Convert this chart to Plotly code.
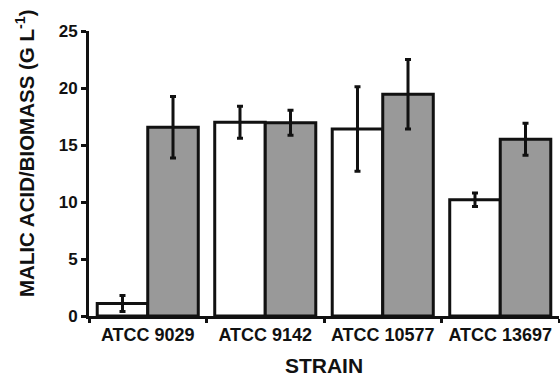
import plotly.graph_objects as go

strains = ["ATCC 9029", "ATCC 9142", "ATCC 10577", "ATCC 13697"]
white_vals = [1.1, 17.0, 16.4, 10.2]
white_err = [0.7, 1.4, 3.7, 0.6]
gray_vals = [16.55, 16.95, 19.45, 15.5]
gray_err = [2.7, 1.1, 3.05, 1.4]
y_ticks = [0, 5, 10, 15, 20, 25]

font_family = "Liberation Sans, Arial, sans-serif"
W, H = 560, 381
ML, MR, MT, MB = 89, 1, 31, 65

fig = go.Figure()
fig.add_trace(go.Bar(
    x=strains, y=white_vals,
    marker=dict(color="white", line=dict(color="#111111", width=3)),
    error_y=dict(type="data", array=white_err, color="#111111", thickness=3, width=3),
    showlegend=False,
))
fig.add_trace(go.Bar(
    x=strains, y=gray_vals,
    marker=dict(color="#999999", line=dict(color="#111111", width=3)),
    error_y=dict(type="data", array=gray_err, color="#111111", thickness=3, width=3),
    showlegend=False,
))

fig.update_layout(
    width=W, height=H,
    margin=dict(l=ML, r=MR, t=MT, b=MB, autoexpand=False),
    paper_bgcolor="white", plot_bgcolor="white",
    barmode="group", bargap=0.14, bargroupgap=0,
    font=dict(family=font_family, size=17, color="#111111", weight="bold"),
)
fig.update_xaxes(
    automargin=False,
    showline=True, linecolor="#111111", linewidth=3,
    ticks="outside", tickson="boundaries", ticklen=4, tickwidth=3, tickcolor="#111111",
    tickfont=dict(family=font_family, size=18, weight="bold", color="#111111"),
    title=dict(text="STRAIN", font=dict(family=font_family, size=21, weight="bold", color="#111111"), standoff=15),
    showgrid=False, zeroline=False,
)
fig.update_yaxes(
    automargin=False,
    range=[0, 25], tickvals=y_ticks,
    showline=True, linecolor="#111111", linewidth=3,
    ticks="outside", ticklen=5, tickwidth=3, tickcolor="#111111",
    tickfont=dict(family=font_family, size=17, weight="bold", color="#111111"),
    showgrid=False, zeroline=False,
)
y_center_px = 153
fig.add_annotation(
    text="MALIC ACID/BIOMASS (G L<sup>-1</sup>)",
    textangle=-90, showarrow=False,
    xref="paper", yref="paper",
    x=(25 - ML) / (W - ML - MR), y=(H - MB - y_center_px) / (H - MT - MB),
    xanchor="center", yanchor="middle",
    font=dict(family=font_family, size=20.5, weight="bold", color="#111111"),
)

fig.write_html(
    "out.html",
    config={"displayModeBar": False},
    post_script="document.body.style.margin='0';document.body.style.overflow='hidden';document.documentElement.style.overflow='hidden';",
)
